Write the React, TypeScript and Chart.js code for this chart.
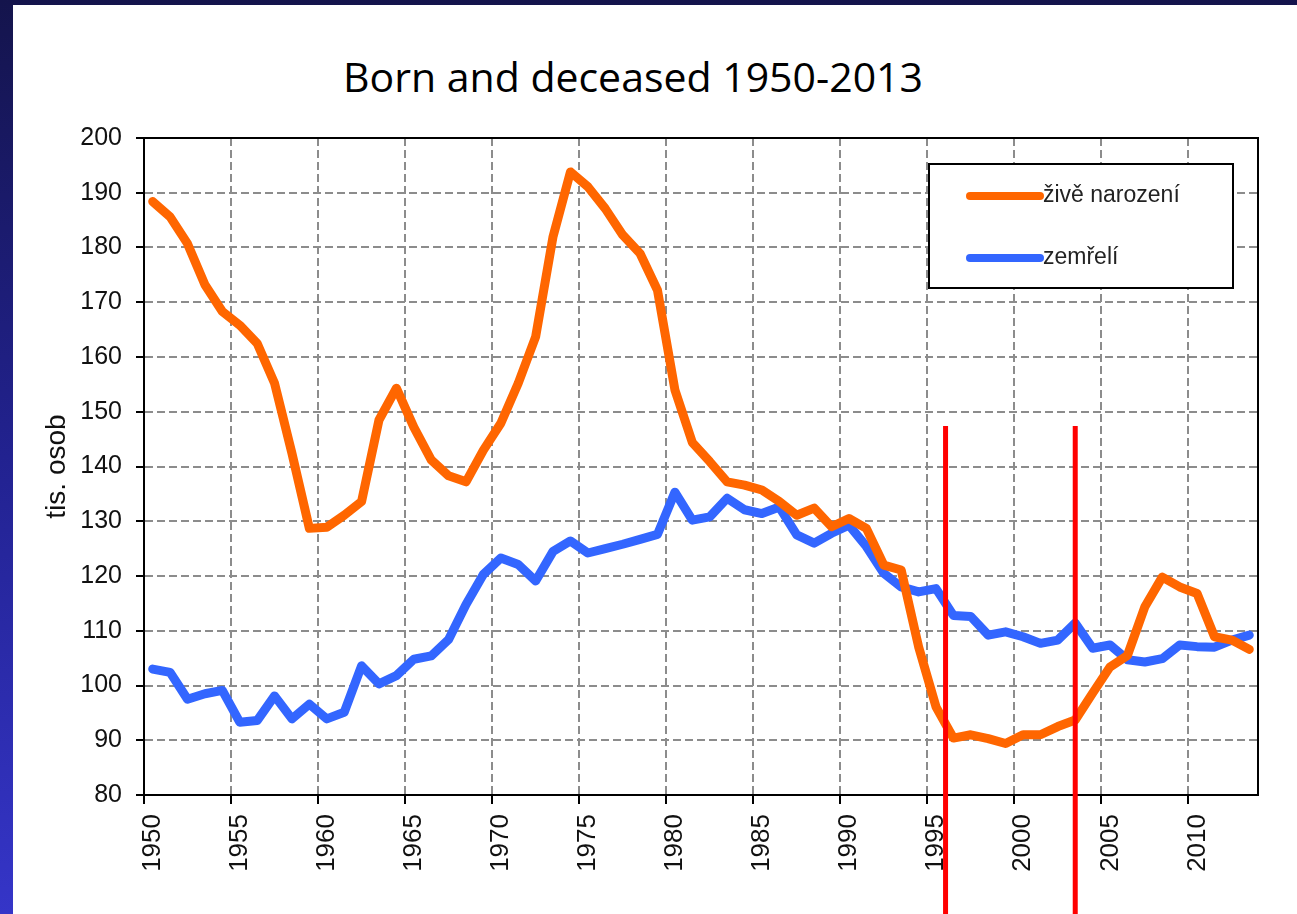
import React, { useEffect, useRef } from "react";
import { Chart, registerables } from "chart.js";

Chart.register(...registerables);

const titleText = "Born and deceased 1950-2013";
const yAxisTitle = "tis. osob";

const years = [
  1950, 1951, 1952, 1953, 1954, 1955, 1956, 1957, 1958, 1959,
  1960, 1961, 1962, 1963, 1964, 1965, 1966, 1967, 1968, 1969,
  1970, 1971, 1972, 1973, 1974, 1975, 1976, 1977, 1978, 1979,
  1980, 1981, 1982, 1983, 1984, 1985, 1986, 1987, 1988, 1989,
  1990, 1991, 1992, 1993, 1994, 1995, 1996, 1997, 1998, 1999,
  2000, 2001, 2002, 2003, 2004, 2005, 2006, 2007, 2008, 2009,
  2010, 2011, 2012, 2013,
];

const bornLabel = "živě narození";
const born = [
  188.4, 185.6, 180.7, 173.2, 168.3, 165.8, 162.5, 155.2, 142.4, 128.7,
  128.9, 131.1, 133.6, 148.5, 154.3, 147.2, 141.2, 138.3, 137.2, 143.0,
  147.9, 155.2, 163.7, 182.0, 193.8, 191.1, 187.1, 182.3, 178.9, 172.2,
  154.0, 144.4, 140.9, 137.2, 136.6, 135.7, 133.6, 131.1, 132.4, 129.0,
  130.5, 128.7, 122.0, 121.1, 107.1, 96.1, 90.4, 91.0, 90.3, 89.4,
  91.0, 91.0, 92.5, 93.7, 98.6, 103.4, 105.5, 114.4, 119.8, 118.0,
  116.8, 108.9, 108.3, 106.6,
];

const deceasedLabel = "zemřelí";
const deceased = [
  103.0, 102.4, 97.5, 98.5, 99.1, 93.3, 93.6, 98.1, 93.9, 96.6,
  93.9, 95.1, 103.6, 100.3, 101.8, 104.8, 105.4, 108.4, 114.8, 120.3,
  123.3, 122.1, 119.1, 124.5, 126.4, 124.2, 125.0, 125.8, 126.7, 127.6,
  135.3, 130.2, 130.8, 134.2, 132.1, 131.4, 132.6, 127.5, 126.0, 127.8,
  129.3, 125.4, 120.5, 118.0, 117.1, 117.7, 112.8, 112.6, 109.2, 109.8,
  108.9, 107.7, 108.3, 111.4, 106.8, 107.4, 104.7, 104.3, 104.9, 107.4,
  107.1, 107.0, 108.3, 109.2,
];

const xTickYears = [1950, 1955, 1960, 1965, 1970, 1975, 1980, 1985, 1990, 1995, 2000, 2005, 2010];
const yMin = 80;
const yMax = 200;
const yStep = 10;

// red marker lines (annotations)
const markerYears = [1995.55, 2003.0];
const markerTopValue = 147.4;

const ORANGE = "#ff6600";
const BLUE = "#3366ff";
const AXIS_FONT = "'Liberation Sans', Arial, sans-serif";

const overlayPlugin = {
  id: "overlay",
  beforeDatasetsDraw(chart: any) {
    const { ctx, chartArea } = chart;
    ctx.save();
    ctx.strokeStyle = "#000";
    ctx.lineWidth = 2;
    ctx.setLineDash([]);
    ctx.strokeRect(chartArea.left, chartArea.top, chartArea.right - chartArea.left, chartArea.bottom - chartArea.top);
    ctx.restore();
  },
  afterDraw(chart: any) {
    const { ctx } = chart;
    const xs = chart.scales.x;
    const ys = chart.scales.y;
    // legend box
    ctx.save();
    const bx = 929, by = 164, bw = 304, bh = 124;
    ctx.fillStyle = "#fff";
    ctx.fillRect(bx, by, bw, bh);
    ctx.strokeStyle = "#000";
    ctx.lineWidth = 2;
    ctx.setLineDash([]);
    ctx.strokeRect(bx, by, bw, bh);
    const rows = [196, 258];
    chart.data.datasets.forEach((ds: any, i: number) => {
      const yy = rows[i];
      ctx.strokeStyle = ds.borderColor;
      ctx.lineWidth = 8;
      ctx.lineCap = "round";
      ctx.beginPath();
      ctx.moveTo(970, yy);
      ctx.lineTo(1040, yy);
      ctx.stroke();
      ctx.fillStyle = "#222";
      ctx.font = `23px ${AXIS_FONT}`;
      ctx.textBaseline = "middle";
      ctx.textAlign = "left";
      ctx.fillText(ds.label, 1043, yy);
    });
    // red vertical lines
    ctx.strokeStyle = "#ff0000";
    ctx.lineWidth = 5;
    ctx.lineCap = "butt";
    const top = ys.getPixelForValue(markerTopValue);
    markerYears.forEach((v) => {
      const px = xs.getPixelForValue(v);
      ctx.beginPath();
      ctx.moveTo(px, top);
      ctx.lineTo(px, chart.height);
      ctx.stroke();
    });
    ctx.restore();
  },
};

export default function App() {
  const canvasRef = useRef<HTMLCanvasElement | null>(null);

  useEffect(() => {
    if (!canvasRef.current) return;
    const chart = new Chart(canvasRef.current, {
      type: "line",
      data: {
        datasets: [
          {
            label: bornLabel,
            data: years.map((y, i) => ({ x: y, y: born[i] })),
            borderColor: ORANGE,
            backgroundColor: ORANGE,
            borderWidth: 9,
            pointRadius: 0,
            tension: 0,
            borderJoinStyle: "round",
            borderCapStyle: "round",
          },
          {
            label: deceasedLabel,
            data: years.map((y, i) => ({ x: y, y: deceased[i] })),
            borderColor: BLUE,
            backgroundColor: BLUE,
            borderWidth: 9,
            pointRadius: 0,
            tension: 0,
            borderJoinStyle: "round",
            borderCapStyle: "round",
          },
        ],
      },
      options: {
        animation: false,
        responsive: true,
        maintainAspectRatio: false,
        layout: { padding: { left: 0, top: 138, right: 39, bottom: 0 } },
        plugins: {
          legend: { display: false },
          tooltip: { enabled: false },
          title: { display: false },
        },
        scales: {
          x: {
            type: "linear",
            min: years[0] - 0.5,
            max: years[years.length - 1] + 0.5,
            afterBuildTicks: (scale: any) => {
              scale.ticks = xTickYears.map((y) => ({ value: y - 0.5 }));
            },
            afterFit: (scale: any) => {
              scale.height = 119;
            },
            ticks: {
              autoSkip: false,
              minRotation: 90,
              maxRotation: 90,
              labelOffset: 9,
              padding: 10,
              color: "#111",
              font: { family: AXIS_FONT, size: 26 },
              callback: (_v: any, i: number) => String(xTickYears[i]),
            },
            grid: {
              color: "#8c8c8c",
              lineWidth: 2,
              tickLength: 9,
              tickColor: "#000",
              tickWidth: 2,
              tickBorderDash: [],
            },
            border: { display: true, color: "#000", width: 2, dash: [8, 4] },
          },
          y: {
            min: yMin,
            max: yMax,
            afterFit: (scale: any) => {
              scale.width = 144;
            },
            ticks: {
              stepSize: yStep,
              padding: 14,
              color: "#111",
              font: { family: AXIS_FONT, size: 25 },
            },
            title: {
              display: true,
              text: yAxisTitle,
              color: "#111",
              font: { family: AXIS_FONT, size: 28 },
              padding: { top: 40, bottom: 0 },
            },
            grid: {
              color: "#8c8c8c",
              lineWidth: 2,
              tickLength: 8,
              tickColor: "#000",
              tickWidth: 2,
              tickBorderDash: [],
            },
            border: { display: true, color: "#000", width: 2, dash: [8, 4] },
          },
        },
      },
      plugins: [overlayPlugin],
    } as any);
    return () => chart.destroy();
  }, []);

  return (
    <div
      style={{
        position: "fixed",
        left: 0,
        top: 0,
        width: 1297,
        height: 914,
        overflow: "hidden",
        background: "linear-gradient(to bottom, #14144c 0%, #222290 50%, #3535c8 100%)",
      }}
    >
      <div style={{ position: "absolute", left: 13, top: 5, right: 0, bottom: 0, background: "#fff" }} />
      <div
        style={{
          position: "absolute",
          left: 0,
          top: 51,
          width: 1266,
          textAlign: "center",
          fontFamily: "'Open Sans', sans-serif",
          fontSize: 41,
          lineHeight: "50px",
          color: "#000",
        }}
      >
        {titleText}
      </div>
      <div style={{ position: "absolute", left: 0, top: 0, width: 1297, height: 914 }}>
        <canvas ref={canvasRef} />
      </div>
    </div>
  );
}
